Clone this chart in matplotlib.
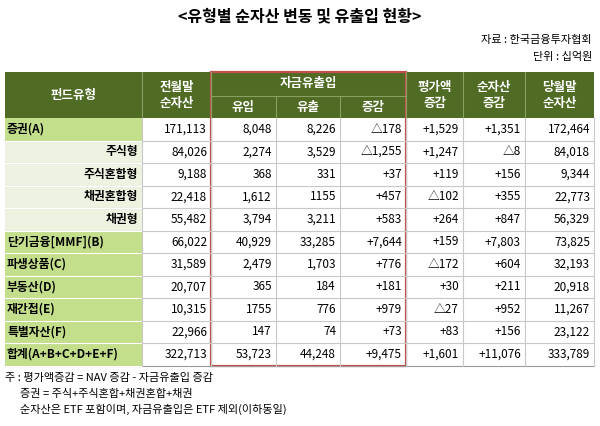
import matplotlib.pyplot as plt
from matplotlib.patches import Rectangle

plt.rcParams["font.family"] = ["Noto Sans CJK JP", "Noto Sans CJK KR", "Noto Sans CJK SC", "DejaVu Sans"]

TITLE = "<유형별 순자산 변동 및 유출입 현황>"
SOURCE = "자료 : 한국금융투자협회"
UNIT = "단위 : 십억원"

row_labels = ["증권(A)", "주식형", "주식혼합형", "채권혼합형", "채권형", "단기금융[MMF](B)",
              "파생상품(C)", "부동산(D)", "재간접(E)", "특별자산(F)", "합계(A+B+C+D+E+F)"]
sub_rows = [1, 2, 3, 4]
prev_nav = ["171,113", "84,026", "9,188", "22,418", "55,482", "66,022", "31,589", "20,707", "10,315", "22,966", "322,713"]
inflow = ["8,048", "2,274", "368", "1,612", "3,794", "40,929", "2,479", "365", "1755", "147", "53,723"]
outflow = ["8,226", "3,529", "331", "1155", "3,211", "33,285", "1,703", "184", "776", "74", "44,248"]
net_flow = ["△178", "△1,255", "+37", "+457", "+583", "+7,644", "+776", "+181", "+979", "+73", "+9,475"]
valuation = ["+1,529", "+1,247", "+119", "△102", "+264", "+159", "△172", "+30", "△27", "+83", "+1,601"]
nav_change = ["+1,351", "△8", "+156", "+355", "+847", "+7,803", "+604", "+211", "+952", "+156", "+11,076"]
cur_nav = ["172,464", "84,018", "9,344", "22,773", "56,329", "73,825", "32,193", "20,918", "11,267", "23,122", "333,789"]
notes = ["주 : 평가액증감 = NAV 증감 - 자금유출입 증감",
         "      증권 = 주식+주식혼합+채권혼합+채권",
         "      순자산은 ETF 포함이며, 자금유출입은 ETF 제외(이하동일)"]

W, H = 600, 426
fig = plt.figure(figsize=(6, 4.26), dpi=100)
ax = fig.add_axes([0, 0, 1, 1])
ax.set_xlim(0, W)
ax.set_ylim(H, 0)
ax.axis("off")

DARK = "#4f6b24"
LIGHT = "#c4df8b"
PALE = "#eef3e1"
GRID = "#c8c8c8"
RED = "#c0504d"

xs = [5, 142, 211, 276, 340, 406, 463, 525, 594]
top, mid, hdr_bot = 72, 96, 118
rh = 22.5
ybot = hdr_bot + rh * len(row_labels)

ax.text(300, 16, TITLE, ha="center", va="center", fontsize=11.5, fontweight="bold")
ax.text(592, 40, SOURCE, ha="right", va="center", fontsize=8)
ax.text(592, 57, UNIT, ha="right", va="center", fontsize=8)

# header
ax.add_patch(Rectangle((xs[0], top), xs[-1] - xs[0], hdr_bot - top, color=DARK, lw=0))
hw = dict(color="white", fontsize=9, fontweight="bold", ha="center", va="center")
ax.text((xs[0] + xs[1]) / 2, 95, "펀드유형", **hw)
for i, lab in [(1, "전월말\n순자산"), (5, "평가액\n증감"), (6, "순자산\n증감"), (7, "당월말\n순자산")]:
    ax.text((xs[i] + xs[i + 1]) / 2, 95, lab, linespacing=1.3, **hw)
ax.text((xs[2] + xs[5]) / 2, 84, "자금유출입", **hw)
for i, lab in [(2, "유입"), (3, "유출"), (4, "증감")]:
    ax.text((xs[i] + xs[i + 1]) / 2, 107, lab, **hw)
ax.plot([xs[2], xs[5]], [mid, mid], color="#8aa060", lw=0.8)
for x in xs[1:-1]:
    y0 = mid if x in (xs[3], xs[4]) else top
    ax.plot([x, x], [y0, hdr_bot], color="#8aa060", lw=0.8)

cols = [prev_nav, inflow, outflow, net_flow, valuation, nav_change, cur_nav]
for r, lab in enumerate(row_labels):
    y0 = hdr_bot + r * rh
    yc = y0 + rh / 2
    sub = r in sub_rows
    ax.add_patch(Rectangle((xs[0], y0), xs[1] - xs[0], rh, color=PALE if sub else LIGHT, lw=0))
    if sub:
        ax.text(xs[1] - 4, yc, lab, ha="right", va="center", fontsize=8.5, fontweight="bold")
    else:
        ax.text(xs[0] + 2, yc, lab, ha="left", va="center", fontsize=8.5, fontweight="bold")
    for c, vals in enumerate(cols):
        ax.text(xs[c + 2] - 4, yc, vals[r], ha="right", va="center", fontsize=8.5)
    ax.plot([xs[0], xs[-1]], [y0 + rh, y0 + rh], color=GRID if r < len(row_labels) - 1 else "#999999", lw=0.8)
    ax.plot([xs[0], xs[1]], [y0 + rh, y0 + rh], color="white", lw=0.8)

for x in xs[1:]:
    ax.plot([x, x], [hdr_bot, ybot], color=GRID, lw=0.8)

ax.add_patch(Rectangle((xs[2], top), xs[5] - xs[2], ybot - top, fill=False, ec=RED, lw=1.6))

for i, n in enumerate(notes):
    ax.text(5, 378 + i * 15.5, n, ha="left", va="center", fontsize=8)

fig.savefig("out.png", dpi=100)
